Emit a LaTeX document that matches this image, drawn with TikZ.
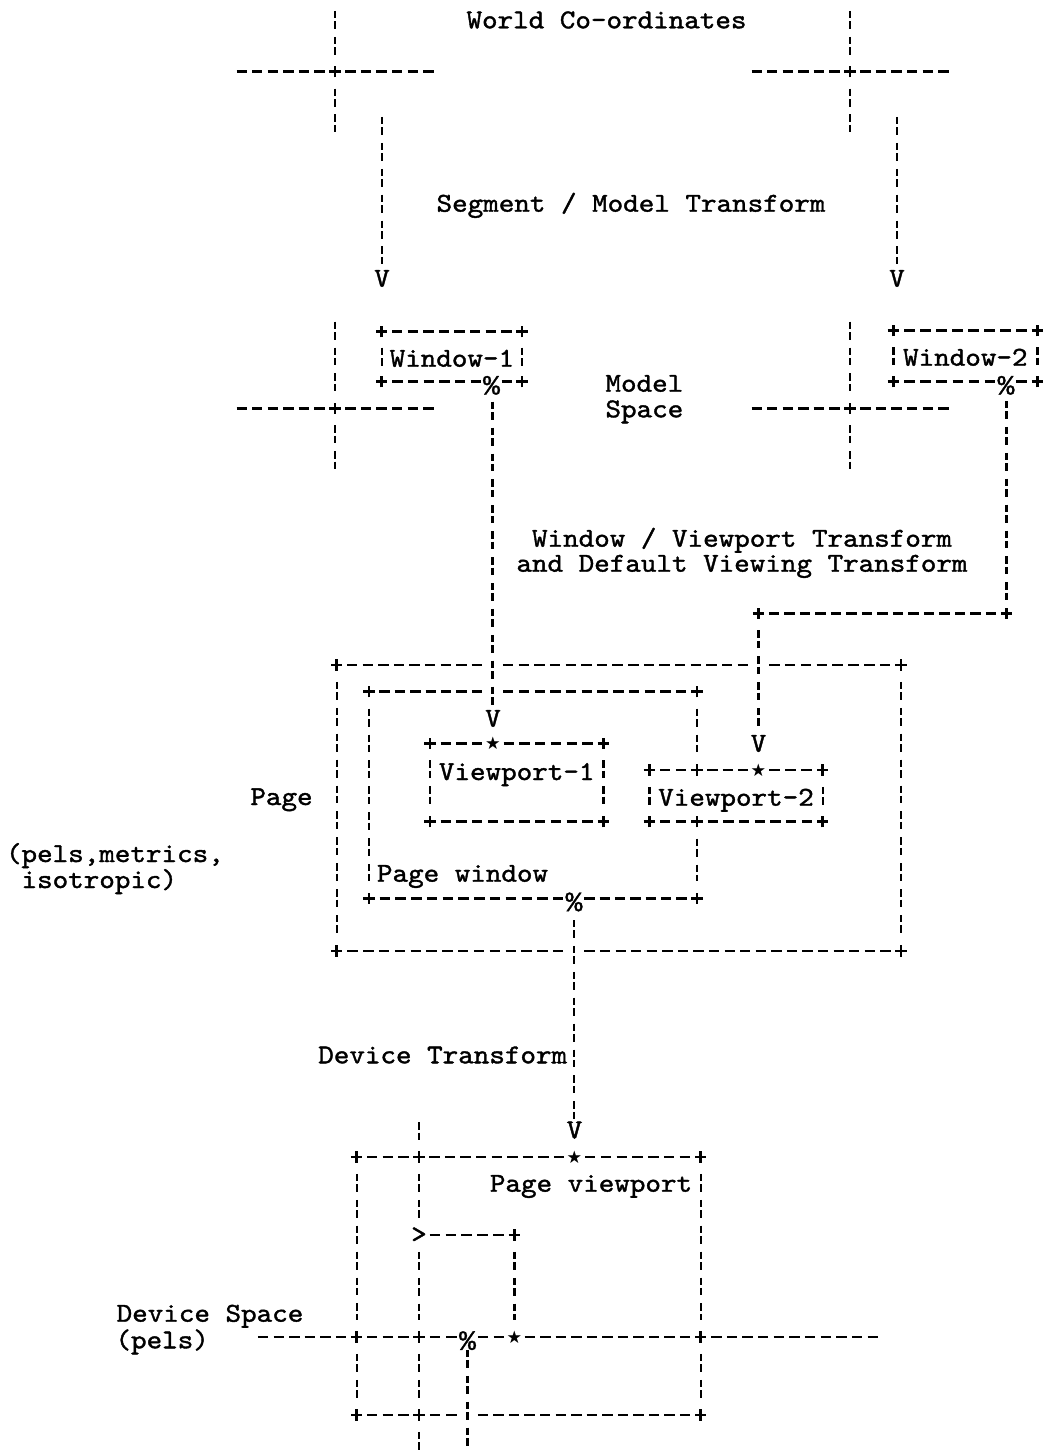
\documentclass[tikz,border=0pt]{standalone}
\usepackage{fontspec}
\usetikzlibrary{calc}
\newfontfamily\symf{DejaVu Sans}
\newfontfamily\libm{Liberation Mono}[FakeBold=1.2]
\newfontfamily\asc{lmmono10-regular.otf}[FakeStretch=1.086,FakeBold=1.4]

\newdimen\HDax \newdimen\HDay \newdimen\HDbx
% dashes of a horizontal ASCII line between two named points (cell centres)
\newcommand\hd[4]{%
  \pgfextractx{\HDax}{\pgfpointanchor{#1}{center}}%
  \pgfextracty{\HDay}{\pgfpointanchor{#1}{center}}%
  \pgfextractx{\HDbx}{\pgfpointanchor{#2}{center}}%
  \pgfmathtruncatemacro\HDn{round((\HDbx-\HDax)/11.6625)}%
  \pgfmathsetmacro\HDs{(\HDbx-\HDax)/\HDn}%
  \pgfmathsetmacro\HDy{\HDay}%
  \pgfmathtruncatemacro\HDlo{#3}%
  \pgfmathtruncatemacro\HDhi{\HDn-#4}%
  \ifnum\HDlo>\HDhi\relax\else
    \foreach \k in {\HDlo,...,\HDhi}{%
      \pgfmathsetmacro\HDx{\HDax+\k*\HDs}%
      \draw[hdash] (\HDx pt-3.9pt,\HDy pt) -- (\HDx pt+3.9pt,\HDy pt);}%
  \fi}
\newcommand\vup[2]{\draw[vbar] ($(#1)+(0,{-25.9*#2-9})$) -- ($(#1)+(0,-16.9)$);}
\newcommand\vdn[2]{\draw[vbar] ($(#1)+(0,16.9)$) -- ($(#1)+(0,{25.9*#2+9})$);}
\newcommand\vbt[2]{\draw[vbar] ($(#1)+(0,16.9)$) -- ($(#2)+(0,-16.9)$);}
\newcommand\vrow[1]{\draw[vbar] ($(#1)+(0,-9)$) -- ($(#1)+(0,9)$);}
\newcommand\vfrom[2]{\draw[vbar] (#1) -- ($(#1)+(0,{25.9*#2-7.9})$);}

\tikzset{
  hdash/.style={line width=1.9pt, line cap=butt},
  vbar/.style={line width=1.8pt, dash pattern=on 5.6pt off 2.25pt on 5.6pt off 5.975pt},
  txt/.style={font={\asc\fontsize{20.46pt}{26pt}\selectfont}, inner sep=0pt, outer sep=0pt, anchor=base},
  txtw/.style={txt, anchor=base west},
  pct/.style={font={\libm\fontsize{21pt}{26pt}\selectfont}, inner sep=0pt, outer sep=0pt, anchor=north, yshift=4.3pt},
  starmark/.style={font={\symf\fontsize{13pt}{14pt}\selectfont}, inner sep=0pt, outer sep=0pt, anchor=center},
  plusmark/.pic={\draw[line width=1.9pt] (-4.2pt,0) -- (4.2pt,0) (0,-4.2pt) -- (0,4.2pt);}
}

\begin{document}
\begin{tikzpicture}[x=0.75pt,y=-0.75pt]
\useasboundingbox (0,0) rectangle (1050,1451);
\fill[white] (0,0) rectangle (1050,1451);

% ---------- coordinates ----------
\coordinate (tlc) at (335,71.7);  \coordinate (tlL) at (241.7,71.7); \coordinate (tlR) at (428.3,71.7);
\coordinate (trc) at (850,71.7);  \coordinate (trL) at (756.7,71.7); \coordinate (trR) at (943.3,71.7);
\coordinate (a1) at (382,117);    \coordinate (a2) at (897,117);
\coordinate (mlc) at (335,408.3); \coordinate (mlL) at (241.7,408.3); \coordinate (mlR) at (428.3,408.3);
\coordinate (mrc) at (850,408.3); \coordinate (mrL) at (756.7,408.3); \coordinate (mrR) at (943.3,408.3);
\coordinate (w1a) at (381.7,331.7); \coordinate (w1b) at (522,331.7);
\coordinate (w1c) at (381.7,381.7); \coordinate (w1d) at (522,381.7);
\coordinate (w1p) at (491.5,381.7);
\coordinate (w1l) at (381.7,356.7); \coordinate (w1r) at (522,356.7);
\coordinate (w1s) at (492.5,401.7);
\coordinate (w2a) at (893.3,330.7); \coordinate (w2b) at (1037.3,330.7);
\coordinate (w2c) at (893.3,381.7); \coordinate (w2d) at (1037.3,381.7);
\coordinate (w2p) at (1006,381.7);
\coordinate (w2l) at (893.3,356.2); \coordinate (w2r) at (1037.3,356.2);
\coordinate (w2s) at (1006.5,401);
\coordinate (w2e) at (1006.5,613.3); \coordinate (w2f) at (758.5,613.3);
\coordinate (w2g) at (758.5,630.3);
\coordinate (pa) at (336.7,665); \coordinate (pb) at (901,665);
\coordinate (pc) at (336.7,951); \coordinate (pd) at (901,951);
\coordinate (px1) at (492.5,665); \coordinate (px2) at (758.5,665); \coordinate (px3) at (574,951);
\coordinate (qa) at (369,691.7); \coordinate (qb) at (697,691.7);
\coordinate (qc) at (369,898.3); \coordinate (qd) at (697,898.3);
\coordinate (qx1) at (492.5,691.7); \coordinate (qp) at (574,898.3);
\coordinate (qs) at (574,920);
\coordinate (ra) at (430,743.3); \coordinate (rb) at (603.3,743.3);
\coordinate (rc) at (430,821.7); \coordinate (rd) at (603.3,821.7);
\coordinate (sa) at (649.3,770); \coordinate (sb) at (822.7,770);
\coordinate (sc) at (649.3,821.7); \coordinate (sd) at (822.7,821.7);
\coordinate (sx1) at (697,770); \coordinate (sx2) at (697,821.7);
\coordinate (sl) at (649.3,795.9); \coordinate (sr) at (822.7,795.9);
\coordinate (ua) at (356.7,1157); \coordinate (ux1) at (419,1157); \coordinate (ub) at (700.7,1157);
\coordinate (ug) at (419,1235); \coordinate (uh) at (514.3,1235);
\coordinate (dl) at (263.1,1337); \coordinate (uc) at (356.7,1337); \coordinate (ux2) at (419,1337);
\coordinate (up) at (467.5,1337); \coordinate (ud) at (700.7,1337); \coordinate (dr) at (872.7,1337);
\coordinate (ue) at (356.7,1415); \coordinate (ux3) at (419,1415);
\coordinate (uxc) at (467.5,1415); \coordinate (uf) at (700.7,1415);
\coordinate (ut) at (467.5,1350);

% ---------- marks ----------
\node[starmark] (rs)  at (493,743.3)   {★};
\node[starmark] (ss)  at (758.5,770)   {★};
\node[starmark] (us)  at (574.5,1157)  {★};
\node[starmark] (ust) at (514.3,1337)  {★};
\node[pct] (w1pc) at (w1p) {\%};
\node[pct] (w2pc) at (w2p) {\%};
\node[pct] (qpc)  at (qp)  {\%};
\node[pct] (upc)  at (up)  {\%};
\node[txt, anchor=center] (gt) at (ug) {>};
\foreach \p in {tlc,trc,mlc,mrc,w1a,w1b,w1c,w1d,w2a,w2b,w2c,w2d,w2e,w2f,
  pa,pb,pc,pd,qa,qb,qc,qd,ra,rb,rc,rd,sa,sb,sc,sd,sx1,sx2,
  ua,ux1,ub,uc,ux2,ud,ue,ux3,uf,uh}{\pic at (\p) {plusmark};}

% ---------- texts ----------
\node[txt] (tworld) at (606.5,28.3) {World Co-ordinates};
\node[txt] (tseg) at (631,211.7) {Segment / Model Transform};
\node[txt] (v1) at (382,286.7) {V};
\node[txt] (v2) at (897,286.7) {V};
\node[txt] (tw1) at (451.9,366.7) {Window-1};
\node[txt] (tw2) at (965.3,365.7) {Window-2};
\node[txtw] (tmodel) at (605.5,391.7) {Model};
\node[txtw] (tspace) at (605.5,417.3) {Space};
\node[txt] (twv1) at (742,546.7) {Window / Viewport Transform};
\node[txt] (twv2) at (742,571.7) {and Default Viewing Transform};
\node[txt] (v3) at (493,726.7) {V};
\node[txt] (v4) at (758.5,751.7) {V};
\node[txt] (tvp1) at (516.7,780) {Viewport-1};
\node[txt] (tvp2) at (736,805.7) {Viewport-2};
\node[txt] (tpage) at (281.5,805) {Page};
\node[txtw] (tpw) at (377,881.7) {Page window};
\node[txtw] (tpm1) at (6,862) {(pels,metrics,};
\node[txtw] (tpm2) at (6,888) {\phantom{(}isotropic)};
\node[txt] (tdt) at (442.7,1063.3) {Device Transform};
\node[txt] (v5) at (574.5,1138.3) {V};
\node[txt] (tpv) at (591,1191.7) {Page viewport};
\node[txt] (tds) at (210,1321.7) {Device Space};
\node[txtw] (tpels) at (115.5,1348.3) {(pels)};

% ---------- horizontal lines ----------
\hd{tlL}{tlc}{0}{1} \hd{tlc}{tlR}{1}{0}
\hd{trL}{trc}{0}{1} \hd{trc}{trR}{1}{0}
\hd{mlL}{mlc}{0}{1} \hd{mlc}{mlR}{1}{0}
\hd{mrL}{mrc}{0}{1} \hd{mrc}{mrR}{1}{0}
\hd{w1a}{w1b}{1}{1} \hd{w1c}{w1p}{1}{1} \hd{w1p}{w1d}{1}{1}
\hd{w2a}{w2b}{1}{1} \hd{w2c}{w2p}{1}{1} \hd{w2p}{w2d}{1}{1}
\hd{w2f}{w2e}{1}{1}
\hd{pa}{px1}{1}{1} \hd{px1}{px2}{1}{1} \hd{px2}{pb}{1}{1}
\hd{pc}{px3}{1}{1} \hd{px3}{pd}{1}{1}
\hd{qa}{qx1}{1}{1} \hd{qx1}{qb}{1}{1}
\hd{qc}{qp}{1}{1} \hd{qp}{qd}{1}{1}
\hd{ra}{rs}{1}{1} \hd{rs}{rb}{1}{1} \hd{rc}{rd}{1}{1}
\hd{sa}{sx1}{1}{1} \hd{sx1}{ss}{1}{1} \hd{ss}{sb}{1}{1}
\hd{sc}{sx2}{1}{1} \hd{sx2}{sd}{1}{1}
\hd{ua}{ux1}{1}{1} \hd{ux1}{us}{1}{1} \hd{us}{ub}{1}{1}
\hd{ug}{uh}{1}{1}
\hd{dl}{uc}{0}{1} \hd{uc}{ux2}{1}{1} \hd{ux2}{up}{1}{1} \hd{up}{ust}{1}{1}
\hd{ust}{ud}{1}{1} \hd{ud}{dr}{1}{0}
\hd{ue}{ux3}{1}{1} \hd{ux3}{uxc}{1}{1} \hd{uxc}{uf}{1}{1}

% ---------- vertical lines ----------
\vup{tlc}{2} \vdn{tlc}{2}
\vup{trc}{2} \vdn{trc}{2}
\vfrom{a1}{6} \vfrom{a2}{6}
\vup{mlc}{3} \vdn{mlc}{2}
\vup{mrc}{3} \vdn{mrc}{2}
\vrow{w1l} \vrow{w1r} \vrow{w2l} \vrow{w2r}
\vfrom{w1s}{12}
\vfrom{w2s}{8}
\vfrom{w2g}{4}
\vbt{pa}{pc} \vbt{pb}{pd}
\vbt{qa}{qc} \vbt{qb}{sx1} \vbt{sx2}{qd}
\vbt{ra}{rc} \vbt{rb}{rd}
\vrow{sl} \vrow{sr}
\vfrom{qs}{8}
\vbt{ua}{uc} \vbt{uc}{ue}
\vbt{ub}{ud} \vbt{ud}{uf}
\vup{ux1}{1} \vbt{ux1}{ug} \vbt{ug}{ux2} \vbt{ux2}{ux3} \vdn{ux3}{1}
\vbt{uh}{ust}
\vfrom{ut}{4}
\end{tikzpicture}
\end{document}
